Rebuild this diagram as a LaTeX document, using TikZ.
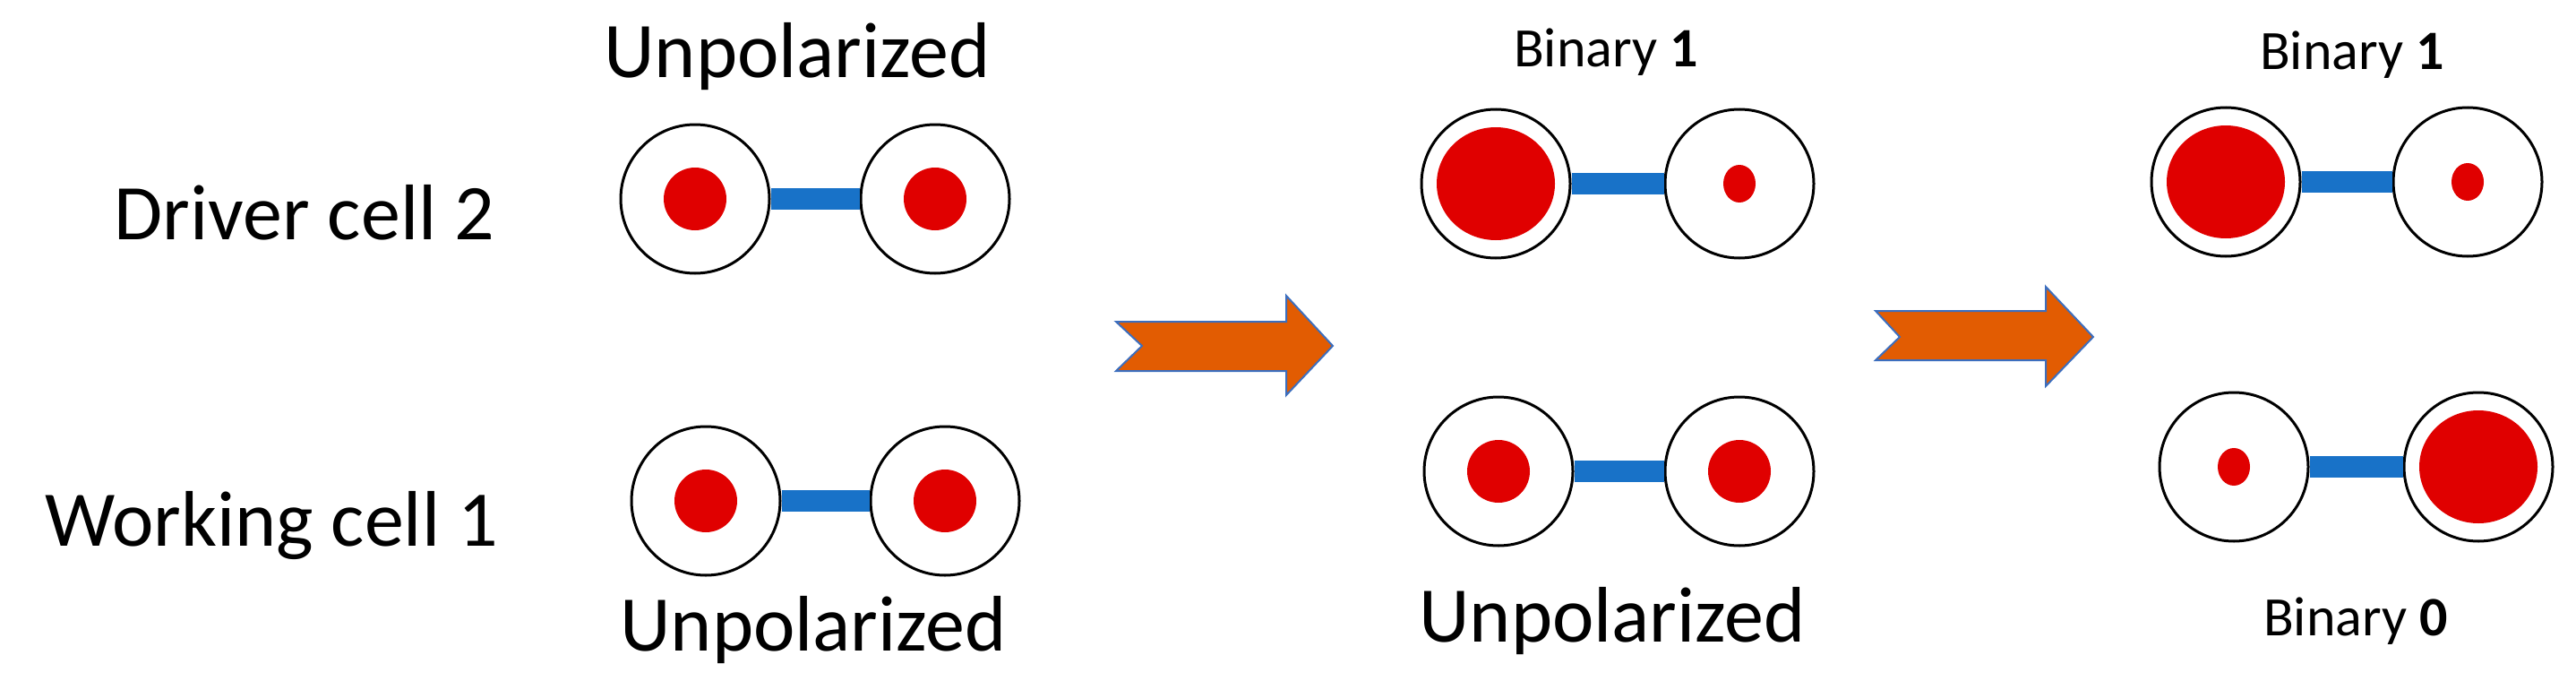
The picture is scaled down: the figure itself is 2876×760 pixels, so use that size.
\documentclass[tikz,border=0pt]{standalone}
\usepackage{fontspec}
\setmainfont{Carlito}
\usepackage{xcolor}
\usetikzlibrary{positioning,calc,shapes.geometric}

\definecolor{dotred}{RGB}{224,0,0}
\definecolor{barblue}{RGB}{24,114,200}
\definecolor{arrorange}{RGB}{226,92,2}
\definecolor{arrblue}{RGB}{60,110,190}

\begin{document}
\begin{tikzpicture}[
  x=1pt, y=-1pt,
  cell/.style={circle, draw=black, line width=3pt, fill=white, minimum size=166pt, inner sep=0pt},
  dotM/.style={circle, fill=dotred, minimum size=70pt, inner sep=0pt},
  dotS/.style={ellipse, fill=dotred, minimum width=36pt, minimum height=42pt, inner sep=0pt},
  dotL/.style={ellipse, fill=dotred, minimum width=132pt, minimum height=126pt, inner sep=0pt},
  link/.style={barblue, line width=24pt},
  bigtext/.style={font=\fontsize{88}{96}\selectfont, inner sep=0pt},
  smalltext/.style={font=\fontsize{62}{70}\selectfont, inner sep=0pt},
  stagearrow/.style={fill=arrorange, draw=arrblue, line width=2pt, line join=miter},
]
\useasboundingbox (0,0) rectangle (2876,760);
% first stage
\node[bigtext] (unpA) at (890,63) {Unpolarized};
\node[bigtext, anchor=east] (drv) at (552,237) {Driver cell 2};
\node[bigtext, anchor=east] (wrk) at (556,587) {Working cell 1};
\node[cell] (a1) at (776,222) {};
\node[cell] (a2) at (1044,222) {};
\node[cell] (b1) at (788,559) {};
\node[cell] (b2) at (1055,559) {};
\draw[link] (a1.east) -- (a2.west);
\draw[link] (b1.east) -- (b2.west);
\node[dotM] at (a1) {};
\node[dotM] at (a2) {};
\node[dotM] at (b1) {};
\node[dotM] at (b2) {};
\node[bigtext] (unpB) at (908,703) {Unpolarized};
% second stage
\node[smalltext] (binA) at (1793,58) {Binary \textbf{1}};
\node[cell] (c1) at (1670,205) {};
\node[cell] (c2) at (1942,205) {};
\node[cell] (d1) at (1673,526) {};
\node[cell] (d2) at (1942,526) {};
\draw[link] (c1.east) -- (c2.west);
\draw[link] (d1.east) -- (d2.west);
\node[dotL] at (c1) {};
\node[dotS] at (c2) {};
\node[dotM] at (d1) {};
\node[dotM] at (d2) {};
\node[bigtext] (unpC) at (1800,693) {Unpolarized};
% third stage
\node[smalltext] (binB) at (2626,61) {Binary \textbf{1}};
\node[cell] (e1) at (2485,203) {};
\node[cell] (e2) at (2755,203) {};
\node[cell] (f1) at (2494,521) {};
\node[cell] (f2) at (2767,521) {};
\draw[link] (e1.east) -- (e2.west);
\draw[link] (f1.east) -- (f2.west);
\node[dotL] at (e1) {};
\node[dotS] at (e2) {};
\node[dotS] at (f1) {};
\node[dotL] at (f2) {};
\node[smalltext] (binC) at (2630,693) {Binary \textbf{0}};
% arrows between stages
\draw[stagearrow] (1246,359) -- (1436,359) -- (1436,330) -- (1488,386) -- (1436,441)
  -- (1436,414) -- (1246,414) -- (1275,386) -- cycle;
\draw[stagearrow] (2094,347) -- (2284,347) -- (2284,320) -- (2337,376) -- (2284,431)
  -- (2284,402) -- (2094,402) -- (2121,376) -- cycle;
\end{tikzpicture}
\end{document}
